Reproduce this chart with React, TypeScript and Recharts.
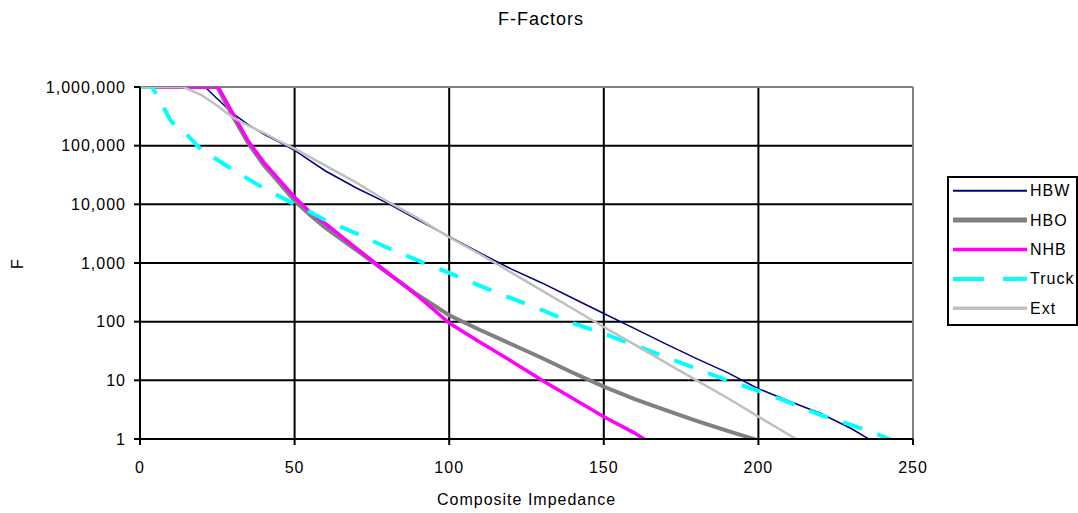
import React from 'react';
import { LineChart, Line, XAxis, YAxis, CartesianGrid, ReferenceLine } from 'recharts';

// values (x = composite impedance, F = factor)
const hbwX = [0, 21, 25, 30, 35, 40, 45, 50, 60, 70, 80, 90, 100, 110, 120, 130, 140, 150, 160, 170, 180, 190, 200, 210, 220, 230, 239];
const hbwF = [1000000, 1000000, 631000, 355000, 229000, 158000, 115000, 83000, 37000, 19000, 10500, 5370, 2820, 1480, 794, 457, 251, 138, 76, 41.7, 23.4, 13.5, 7.2, 4.4, 2.75, 1.51, 0.79];

const hboX = [0, 25, 30, 35, 40, 45, 50, 55, 60, 70, 80, 90, 100, 110, 120, 130, 140, 150, 160, 170, 180, 190, 200, 203];
const hboF = [1000000, 1000000, 316000, 110000, 46800, 23400, 11500, 6600, 3980, 1660, 676, 282, 129, 72, 41.7, 24, 13.5, 7.8, 4.8, 3.1, 2.04, 1.38, 0.95, 0.83];

const nhbX = [0, 25.3, 30, 35, 40, 45, 50, 55, 60, 70, 80, 90, 100, 110, 120, 130, 140, 150, 160, 166];
const nhbF = [1000000, 1000000, 355000, 120000, 52500, 26300, 13200, 7400, 4680, 1780, 692, 269, 95, 44.7, 21.4, 10, 4.9, 2.4, 1.26, 0.79];

const truckX = [0, 4, 7.5, 10, 15, 20, 25, 30, 35, 40, 45, 50, 55, 60, 70, 80, 90, 100, 110, 120, 130, 140, 150, 160, 170, 180, 190, 200, 210, 220, 230, 240, 247];
const truckF = [1000000, 1000000, 457000, 263000, 158000, 83000, 57500, 38900, 26900, 19000, 13800, 10000, 7400, 5370, 3160, 1820, 1100, 676, 407, 251, 158, 95, 62, 40, 25, 15.8, 10, 6.6, 4.2, 2.57, 1.74, 1.12, 0.79];

const extX = [0, 14, 20, 25, 30, 35, 40, 45, 50, 60, 70, 80, 90, 100, 110, 120, 130, 140, 150, 160, 170, 180, 190, 200, 210, 215.5];
const extF = [1000000, 1000000, 724000, 479000, 302000, 219000, 166000, 120000, 89000, 45700, 23400, 11200, 5750, 2750, 1410, 692, 339, 166, 81, 40.7, 20, 10, 5, 2.4, 1.17, 0.79];

const xTicks = [0, 50, 100, 150, 200, 250];
const yTicks = [1, 10, 100, 1000, 10000, 100000, 1000000];

const toRows = (xs: number[], fs: number[]) => xs.map((x, i) => ({ x, F: fs[i] }));

const series = [
  { name: 'HBW', rows: toRows(hbwX, hbwF), color: '#000080', width: 1.5, dash: undefined, legendWidth: 2, legendDash: undefined },
  { name: 'HBO', rows: toRows(hboX, hboF), color: '#808080', width: 4, dash: undefined, legendWidth: 5, legendDash: undefined },
  { name: 'NHB', rows: toRows(nhbX, nhbF), color: '#FF00FF', width: 3.5, dash: undefined, legendWidth: 3.5, legendDash: undefined },
  { name: 'Truck', rows: toRows(truckX, truckF), color: '#00FFFF', width: 4, dash: '20 16', legendWidth: 4, legendDash: '31 19' },
  { name: 'Ext', rows: toRows(extX, extF), color: '#C0C0C0', width: 2.5, dash: undefined, legendWidth: 3.5, legendDash: undefined },
];

const FONT = '"Liberation Sans", Arial, sans-serif';
const tickStyle = { fontSize: 16, fill: '#000', fontFamily: FONT, letterSpacing: 1 };

const Legend = () => (
  <svg width={131} height={150} style={{ position: 'absolute', left: 947, top: 176 }}>
    <rect x={1} y={1} width={129} height={148} fill="#fff" stroke="#000" strokeWidth={2} />
    {series.map((s, i) => {
      const y = 14.7 + i * 29.4;
      return (
        <g key={s.name}>
          <line x1={6} x2={80} y1={y} y2={y} stroke={s.color} strokeWidth={s.legendWidth} strokeDasharray={s.legendDash} />
          <text x={83} y={y} dominantBaseline="central" fontSize={16} fontFamily={FONT} letterSpacing={1} fill="#000">
            {s.name}
          </text>
        </g>
      );
    })}
  </svg>
);

export default function App() {
  return (
    <div style={{ position: 'absolute', left: 0, top: 0, width: 1078, height: 513, background: '#fff', fontFamily: FONT }}>
      <LineChart width={1078} height={513} margin={{ top: 87, right: 165, bottom: 44, left: 80 }}>
        <CartesianGrid
          stroke="#000"
          strokeWidth={2}
          horizontalValues={[10, 100, 1000, 10000, 100000]}
          verticalValues={[50, 100, 150, 200]}
        />
        <XAxis
          type="number"
          dataKey="x"
          domain={[0, 250]}
          ticks={xTicks}
          stroke="#000"
          strokeWidth={2}
          tickSize={6}
          tickMargin={17}
          height={30}
          tick={tickStyle}
        />
        <YAxis
          type="number"
          dataKey="F"
          scale="log"
          domain={[1, 1000000]}
          allowDataOverflow
          ticks={yTicks}
          tickFormatter={(v: number) => v.toLocaleString('en-US')}
          stroke="#000"
          strokeWidth={2}
          tickSize={6}
          tickMargin={8}
          width={60}
          tick={tickStyle}
          interval={0}
        />
        <ReferenceLine y={1000000} stroke="#808080" strokeWidth={2} />
        <ReferenceLine x={250} stroke="#808080" strokeWidth={2} />
        {series.map((s) => (
          <Line
            key={s.name}
            data={s.rows}
            dataKey="F"
            name={s.name}
            type="linear"
            stroke={s.color}
            strokeWidth={s.width}
            strokeDasharray={s.dash}
            dot={false}
            activeDot={false}
            isAnimationActive={false}
          />
        ))}
      </LineChart>
      <div style={{ position: 'absolute', left: 0, width: 1082, top: 9, textAlign: 'center', fontSize: 18, letterSpacing: 1 }}>
        F-Factors
      </div>
      <div style={{ position: 'absolute', left: 140, width: 773, top: 491, textAlign: 'center', fontSize: 16, letterSpacing: 1 }}>
        Composite Impedance
      </div>
      <div
        style={{
          position: 'absolute',
          left: 18,
          top: 264,
          fontSize: 16,
          transform: 'translate(-50%, -50%) rotate(-90deg)',
        }}
      >
        F
      </div>
      <Legend />
    </div>
  );
}
